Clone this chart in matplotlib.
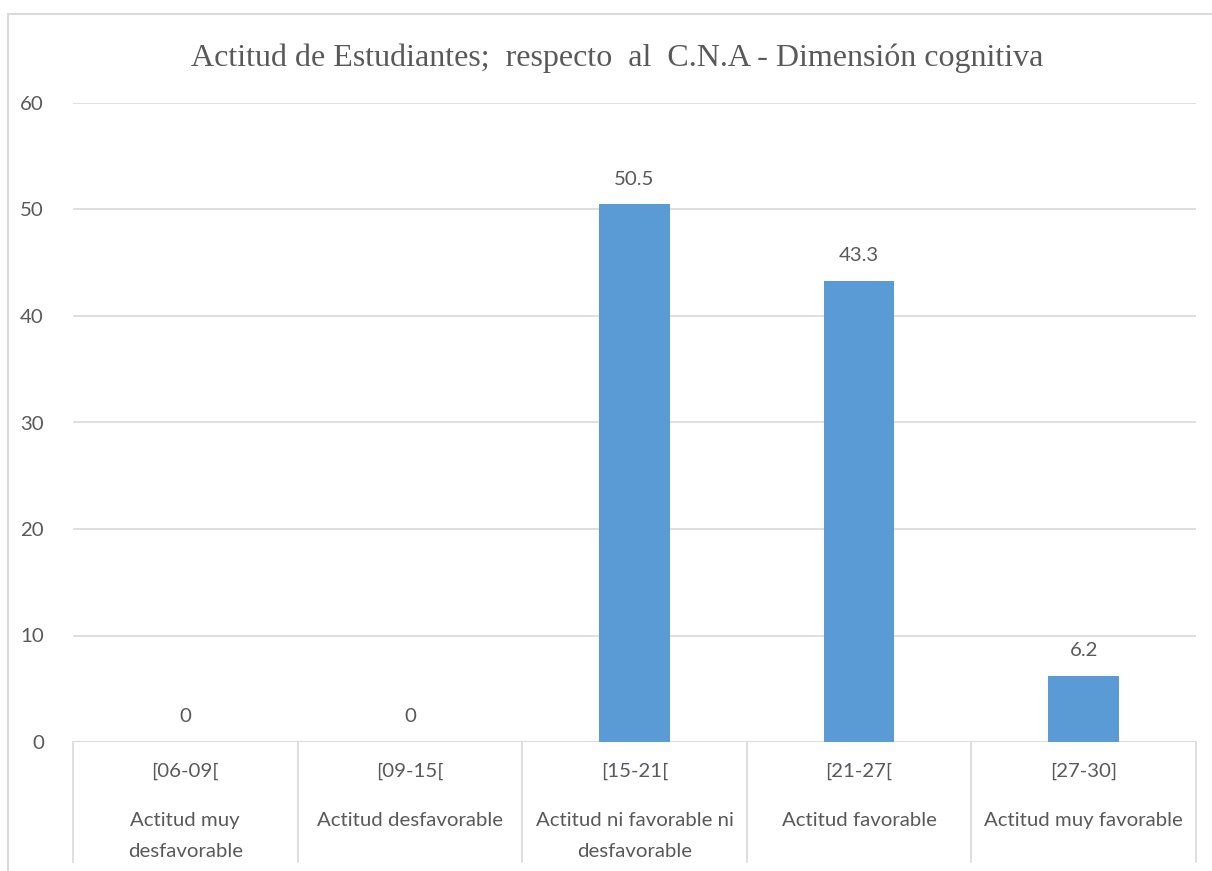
import matplotlib
matplotlib.use("Agg")
import matplotlib.pyplot as plt
from matplotlib.lines import Line2D
import matplotlib.transforms as mtransforms

# data
ranges = ["[06-09[", "[09-15[", "[15-21[", "[21-27[", "[27-30]"]
actitudes = ["Actitud muy\ndesfavorable", "Actitud desfavorable",
             "Actitud ni favorable ni\ndesfavorable", "Actitud favorable",
             "Actitud muy favorable"]
valores = [0, 0, 50.5, 43.3, 6.2]
etiquetas = ["0", "0", "50.5", "43.3", "6.2"]
yticks = [0, 10, 20, 30, 40, 50, 60]

txt = "#595959"
grid = "#d9d9d9"
bar_color = "#5b9bd5"
sans = ["Lato", "DejaVu Sans"]
fs = 14.7

W, H = 1212, 871
fig = plt.figure(figsize=(W / 100, H / 100), dpi=100)
ax = fig.add_axes([73 / W, 1 - 742 / H, (1196 - 73) / W, (742 - 103) / H])

x = list(range(len(valores)))
ax.bar(x, valores, width=0.315, color=bar_color, zorder=3)
ax.set_xlim(-0.5, len(valores) - 0.5)
ax.set_ylim(0, 60)
ax.set_yticks(yticks)
ax.set_yticklabels([str(v) for v in yticks], fontsize=fs, color=txt, family=sans)
ax.tick_params(axis="y", length=0, pad=21)
ax.tick_params(axis="x", length=0, labelbottom=False)
ax.grid(axis="y", color=grid, lw=1.2, zorder=0)
for s in ax.spines.values():
    s.set_visible(False)

# data labels
for xi, v, lab in zip(x, valores, etiquetas):
    ax.annotate(lab, (xi, v), xytext=(0, 12), textcoords="offset points",
                ha="center", va="bottom", fontsize=fs, color=txt, family=sans)

# multi-level category axis
trans = mtransforms.blended_transform_factory(ax.transData, ax.transAxes)
ax.axhline(0, color=grid, lw=1.2, zorder=1)
for b in [i - 0.5 for i in range(len(valores) + 1)]:
    ax.plot([b, b], [0, -(862 - 742) / (742 - 103)], transform=trans,
            color=grid, lw=1.2, clip_on=False)
h = 742 - 103
for xi, r, a in zip(x, ranges, actitudes):
    ax.text(xi, -(771 - 742) / h, r, transform=trans, ha="center", va="center",
            fontsize=fs, color=txt, family=sans)
    ax.text(xi, -(812 - 742) / h, a, transform=trans, ha="center", va="top",
            fontsize=fs, color=txt, family=sans, linespacing=2.0)

fig.text(617 / W, 1 - 58 / H,
         "Actitud de Estudiantes;  respecto  al  C.N.A - Dimensión cognitiva",
         ha="center", va="center", fontsize=23, color=txt, family="Liberation Serif")

# chart border (cropped on right and bottom)
fig.add_artist(Line2D([8 / W, 8 / W], [0, 1 - 14 / H], color=grid, lw=1.5))
fig.add_artist(Line2D([8 / W, 1], [1 - 14 / H, 1 - 14 / H], color=grid, lw=1.5))

fig.savefig("out.png", dpi=100)
